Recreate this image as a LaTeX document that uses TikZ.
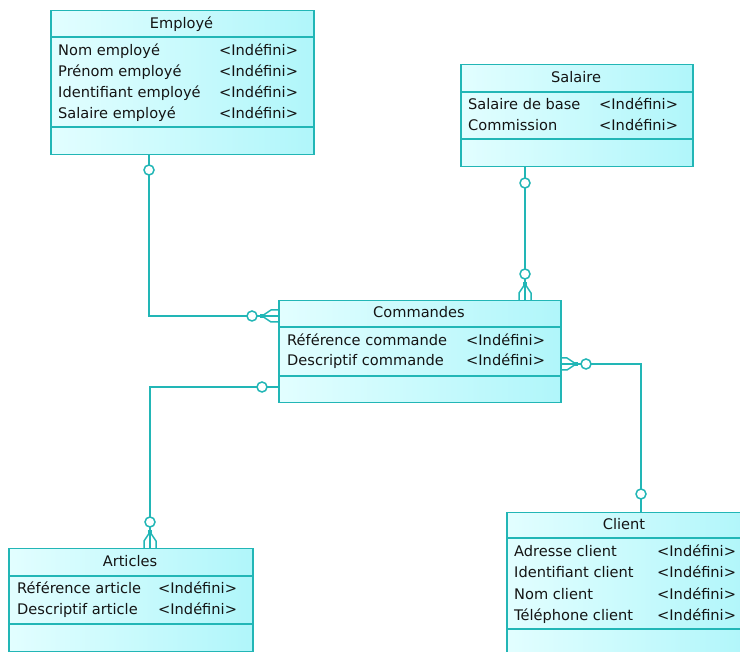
\documentclass[tikz,border=0pt]{standalone}
\usepackage{fontspec}
\setmainfont{DejaVu Sans}
\usepackage{tikz}
\usetikzlibrary{positioning}

\definecolor{teal1}{RGB}{34,182,182}
\definecolor{cyanL}{RGB}{226,254,255}
\definecolor{cyanR}{RGB}{176,246,250}

\tikzset{
    entity/.style={rectangle, draw=teal1, line width=1.5pt, left color=cyanL, right color=cyanR, inner sep=0pt, anchor=north west},
    sep/.style={draw=teal1, line width=1.5pt},
    rel/.style={draw=teal1, line width=1.5pt},
    txt/.style={anchor=base west, inner sep=0pt, font=\fontsize{14.6}{17}\selectfont, text=black!92},
    ttl/.style={anchor=base, inner sep=0pt, font=\fontsize{14.6}{17}\selectfont, text=black!92},
    optc/.style={circle, draw=teal1, line width=1.5pt, fill=white, inner sep=0pt, minimum size=10pt},
    crow/.pic={
        \draw[teal1, line width=1.5pt] (-16,0) -- (0,0);
        \draw[teal1, line width=1.5pt] (-16,0) -- (-7,-6) -- (0,-6);
        \draw[teal1, line width=1.5pt] (-16,0) -- (-7,6) -- (0,6);
        \fill[teal1] (-18,-2) rectangle (-14,2);
        \node[optc] at (-26,0) {};
    }
}

\begin{document}
\begin{tikzpicture}[x=1pt, y=-1pt]
    \clip (0,0) rectangle (740,652);

    % Entities
    \node[entity, minimum width=263pt, minimum height=144pt] (EMP) at (50,10) {};
    \node[entity, minimum width=232pt, minimum height=102pt] (SAL) at (460,64) {};
    \node[entity, minimum width=282pt, minimum height=102pt] (CMD) at (278,300) {};
    \node[entity, minimum width=244pt, minimum height=103pt] (ART) at (8,548) {};
    \node[entity, minimum width=244pt, minimum height=150pt] (CLI) at (506,512) {};

    % Separators
    \draw[sep] (50,37) -- (313,37);
    \draw[sep] (50,127) -- (313,127);
    \draw[sep] (460,92) -- (692,92);
    \draw[sep] (460,139) -- (692,139);
    \draw[sep] (278,327) -- (560,327);
    \draw[sep] (278,376) -- (560,376);
    \draw[sep] (8,576) -- (252,576);
    \draw[sep] (8,624) -- (252,624);
    \draw[sep] (506,538) -- (750,538);
    \draw[sep] (506,629) -- (750,629);

    % Employé
    \node[ttl] (EMPt) at (181.5,29) {Employé};
    \node[txt] (EMP1) at (58,56) {Nom employé};
    \node[txt] (EMP2) at (58,77) {Prénom employé};
    \node[txt] (EMP3) at (58,98) {Identifiant employé};
    \node[txt] (EMP4) at (58,119) {Salaire employé};
    \node[txt] (EMP1t) at (219,56) {<Indéfini>};
    \node[txt] (EMP2t) at (219,77) {<Indéfini>};
    \node[txt] (EMP3t) at (219,98) {<Indéfini>};
    \node[txt] (EMP4t) at (219,119) {<Indéfini>};

    % Salaire
    \node[ttl] (SALt) at (576,83) {Salaire};
    \node[txt] (SAL1) at (468,110) {Salaire de base};
    \node[txt] (SAL2) at (468,131) {Commission};
    \node[txt] (SAL1t) at (599,110) {<Indéfini>};
    \node[txt] (SAL2t) at (599,131) {<Indéfini>};

    % Commandes
    \node[ttl] (CMDt) at (419,318) {Commandes};
    \node[txt] (CMD1) at (287,346) {Référence commande};
    \node[txt] (CMD2) at (287,366) {Descriptif commande};
    \node[txt] (CMD1t) at (466,346) {<Indéfini>};
    \node[txt] (CMD2t) at (466,366) {<Indéfini>};

    % Articles
    \node[ttl] (ARTt) at (130,567) {Articles};
    \node[txt] (ART1) at (17,594) {Référence article};
    \node[txt] (ART2) at (17,614) {Descriptif article};
    \node[txt] (ART1t) at (158,594) {<Indéfini>};
    \node[txt] (ART2t) at (158,614) {<Indéfini>};

    % Client
    \node[ttl] (CLIt) at (624,530) {Client};
    \node[txt] (CLI1) at (514,557) {Adresse client};
    \node[txt] (CLI2) at (514,578) {Identifiant client};
    \node[txt] (CLI3) at (514,599) {Nom client};
    \node[txt] (CLI4) at (514,620) {Téléphone client};
    \node[txt] (CLI1t) at (657,557) {<Indéfini>};
    \node[txt] (CLI2t) at (657,578) {<Indéfini>};
    \node[txt] (CLI3t) at (657,599) {<Indéfini>};
    \node[txt] (CLI4t) at (657,620) {<Indéfini>};

    % Relations
    \draw[rel] ([xshift=99pt]EMP.south west) |- ([yshift=-16pt]CMD.north west);
    \draw[rel] ([xshift=65pt]SAL.south west) -- ([xshift=247pt]CMD.north west);
    \draw[rel] ([yshift=-87pt]CMD.north west) -| ([xshift=142pt]ART.north west);
    \draw[rel] ([yshift=-64pt]CMD.north east) -| ([xshift=135pt]CLI.north west);

    % Cardinalities
    \node[optc] (o1) at (149,170) {};
    \node[optc] (o2) at (525,183) {};
    \node[optc] (o3) at (262,387) {};
    \node[optc] (o4) at (641,494) {};
    \pic at (278,316) {crow};
    \pic[rotate=-90] at (525,300) {crow};
    \pic[rotate=-90] at (150,548) {crow};
    \pic[rotate=180] at (560,364) {crow};
\end{tikzpicture}
\end{document}
